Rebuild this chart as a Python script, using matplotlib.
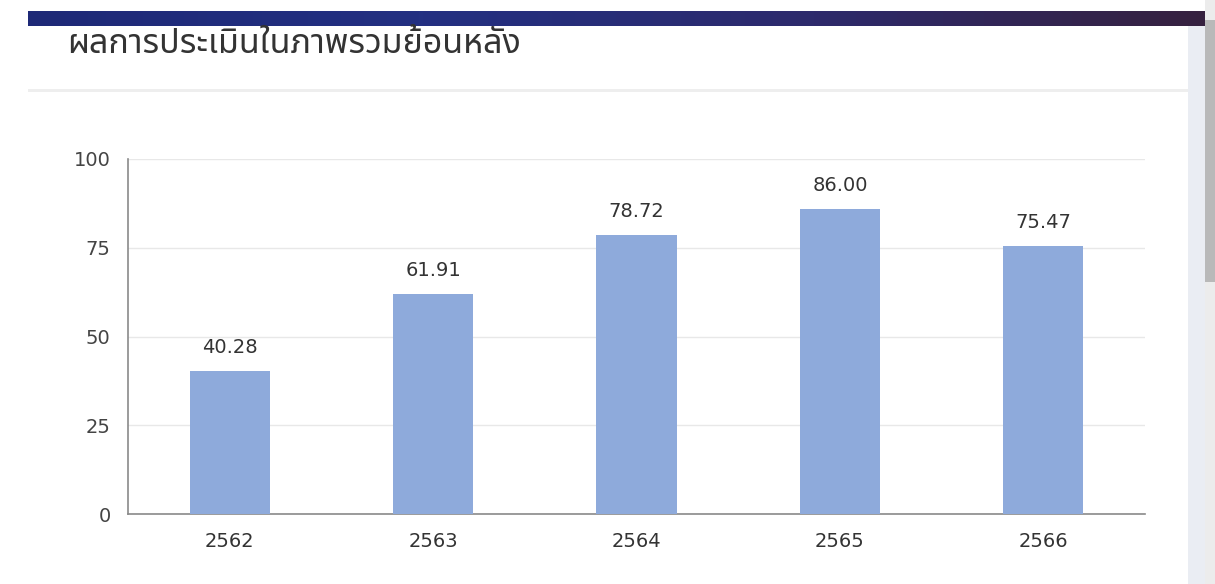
import matplotlib
matplotlib.use("Agg")
import matplotlib.pyplot as plt
import numpy as np
from matplotlib import font_manager
from matplotlib.ft2font import FT2Font
from matplotlib.colors import LinearSegmentedColormap
from matplotlib.patches import Rectangle

title = "ผลการประเมินในภาพรวมย้อนหลัง"
years = ["2562", "2563", "2564", "2565", "2566"]
scores = [40.28, 61.91, 78.72, 86.00, 75.47]
y_ticks = [0, 25, 50, 75, 100]

# find a font family with Thai glyphs
thai_family = None
preferred = []
for f in font_manager.fontManager.ttflist:
    try:
        cm = FT2Font(f.fname).get_charmap()
    except Exception:
        continue
    if ord("ก") in cm and ord("ผ") in cm:
        preferred.append(f.name)
for cand in ["Noto Sans Thai", "Noto Sans Thai UI", "Noto Sans", "Loma", "Garuda"]:
    if cand in preferred:
        thai_family = cand
        break
if thai_family is None and preferred:
    thai_family = preferred[0]
title_fams = ([thai_family] if thai_family else []) + ["DejaVu Sans"]

num_font = "DejaVu Sans"

W, H = 1215, 584
fig = plt.figure(figsize=(W / 100, H / 100), dpi=100)
fig.patch.set_facecolor("white")

def fx(x):
    return x / W

def fy(y):
    return 1 - y / H

# header gradient bar
hax = fig.add_axes([fx(28), fy(26), fx(1205 - 28), (26 - 11) / H])
cmap = LinearSegmentedColormap.from_list("hdr", ["#1e2977", "#233082", "#2d2a6c", "#36213f"])
hax.imshow(np.linspace(0, 1, 256)[None, :], aspect="auto", cmap=cmap, extent=[0, 1, 0, 1])
hax.set_axis_off()

# scrollbar regions
fig.add_artist(Rectangle((fx(1188), 0), fx(17), fy(26), transform=fig.transFigure,
                         facecolor="#eaedf3", edgecolor="none"))
fig.add_artist(Rectangle((fx(1205), 0), fx(10), 1, transform=fig.transFigure,
                         facecolor="#ececec", edgecolor="none"))
fig.add_artist(Rectangle((fx(1205), fy(282)), fx(10), (282 - 20) / H, transform=fig.transFigure,
                         facecolor="#b9b9b9", edgecolor="none"))

# separator line
fig.add_artist(Rectangle((fx(28), fy(92)), fx(1188 - 28), 3 / H, transform=fig.transFigure,
                         facecolor="#eeeeee", edgecolor="none"))

# title
fig.text(fx(67), fy(44), title, fontsize=24.5, color="#333333", family=title_fams,
         ha="left", va="center")

# chart
ax = fig.add_axes([fx(128), fy(514), fx(1145 - 128), (514 - 159) / H])
x = np.arange(len(years))
ax.bar(x, scores, width=0.395, color="#8eaadb", zorder=3)
ax.set_xlim(-0.5, len(years) - 0.5)
ax.set_ylim(0, 100)
ax.set_yticks(y_ticks)
ax.set_yticklabels([str(v) for v in y_ticks])
ax.set_xticks(x)
ax.set_xticklabels(years)
for lab in ax.get_yticklabels():
    lab.set_fontfamily(num_font)
    lab.set_fontsize(14)
    lab.set_color("#444444")
for lab in ax.get_xticklabels():
    lab.set_fontfamily(num_font)
    lab.set_fontsize(14)
    lab.set_color("#333333")
ax.tick_params(axis="y", length=0, pad=12.5)
ax.tick_params(axis="x", length=0, pad=13)
ax.grid(axis="y", color="#e8e8e8", linewidth=1, zorder=0)
for s in ["top", "right"]:
    ax.spines[s].set_visible(False)
ax.spines["left"].set_color("#8a8a8a")
ax.spines["bottom"].set_color("#8a8a8a")
ax.spines["left"].set_linewidth(1.2)
ax.spines["bottom"].set_linewidth(1.2)

for xi, v in zip(x, scores):
    ax.annotate(f"{v:.2f}", (xi, v), xytext=(0, 10), textcoords="offset points",
                ha="center", va="bottom", fontsize=14, family=num_font, color="#333333")

fig.savefig("out.png", dpi=100, facecolor="white")
